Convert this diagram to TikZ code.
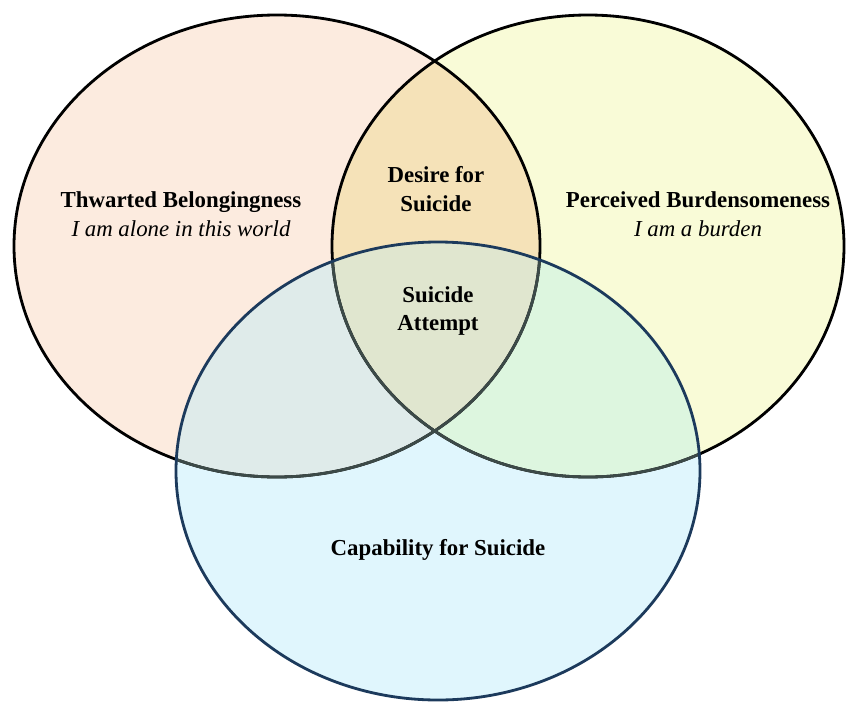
\documentclass[tikz,border=0pt]{standalone}
\usepackage{fontspec}
\setmainfont{Liberation Serif}
\usetikzlibrary{positioning}

\definecolor{peach}{HTML}{FCEBDF}
\definecolor{lemon}{HTML}{F9FBD7}
\definecolor{sky}{HTML}{E0F6FD}
\definecolor{tan}{HTML}{F5E2B8}
\definecolor{mist}{HTML}{DFEBEA}
\definecolor{mint}{HTML}{DDF6DF}
\definecolor{sage}{HTML}{E0E6CF}
\definecolor{navy}{HTML}{1C3A5C}
\definecolor{slate}{HTML}{3C4A48}

\def\belong{(277,246) ellipse [x radius=263, y radius=231]}
\def\burden{(588,246) ellipse [x radius=256, y radius=231]}
\def\capab{(438,471) ellipse [x radius=262, y radius=229]}

\begin{document}
\begin{tikzpicture}[x=0.03cm,y=-0.03cm,
  ring/.style={line width=2.4pt},
  setlabel/.style={font=\fontsize{19.5}{24.5}\selectfont\bfseries,align=center,inner sep=0pt}]
  \useasboundingbox (0,0) rectangle (846,701);

  % fills
  \fill[peach] \belong;
  \fill[lemon] \burden;
  \begin{scope}
    \clip \belong;
    \fill[tan] \burden;
  \end{scope}
  \fill[sky] \capab;
  \begin{scope}
    \clip \capab;
    \fill[mist] \belong;
    \fill[mint] \burden;
    \clip \belong;
    \fill[sage] \burden;
  \end{scope}

  % outlines
  \draw[ring] \belong;
  \draw[ring] \burden;
  \begin{scope}
    \clip \capab;
    \draw[ring,slate] \belong;
    \draw[ring,slate] \burden;
  \end{scope}
  \draw[ring,navy] \capab;

  % labels
  \node[setlabel] (tb) at (181,214) {Thwarted Belongingness\\\mdseries\itshape I am alone in this world};
  \node[setlabel] (pb) at (698,214) {Perceived Burdensomeness\\\mdseries\itshape I am a burden};
  \node[setlabel] (desire) at (436,189) {Desire for\\Suicide};
  \node[setlabel] (attempt) at (438,311) {Suicide\\Attempt};
  \node[setlabel] (cap) at (438,550) {Capability for Suicide};
\end{tikzpicture}
\end{document}
